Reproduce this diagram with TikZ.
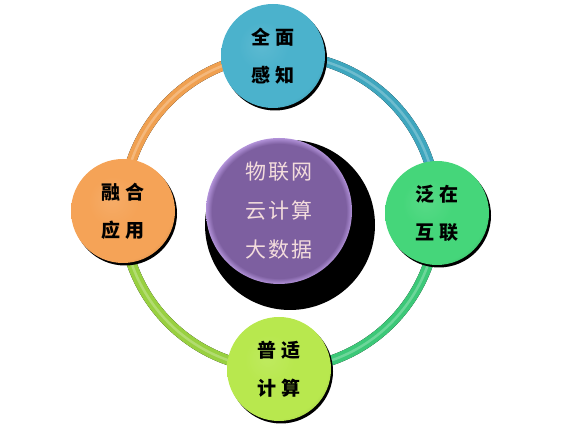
\documentclass[tikz,border=0pt]{standalone}
\usepackage{fontspec}
\usetikzlibrary{calc}
\newfontfamily\cjk{Noto Sans CJK SC}
\definecolor{cTeal}{RGB}{75,178,204}
\definecolor{cGreen}{RGB}{69,214,122}
\definecolor{cLime}{RGB}{184,232,78}
\definecolor{cOrange}{RGB}{245,163,87}
\definecolor{rTeal}{RGB}{62,166,190}
\definecolor{rGreen}{RGB}{60,200,120}
\definecolor{rLime}{RGB}{152,208,64}
\definecolor{rOrange}{RGB}{240,160,80}
\definecolor{cPurple}{RGB}{125,95,160}
\definecolor{cPurpleRim}{RGB}{190,158,230}
\definecolor{cText}{RGB}{243,220,220}
\colorlet{nodeA}{cTeal}
\colorlet{nodeB}{cTeal}
\colorlet{nodeC}{cTeal}
\pgfdeclareradialshading[nodeA,nodeB,nodeC]{nodeshade}{\pgfpoint{-6bp}{6bp}}{%
  color(0bp)=(nodeA);color(12bp)=(nodeB);color(27bp)=(nodeB);color(32bp)=(nodeC);color(50bp)=(nodeC)}
\pgfdeclareradialshading{purpleshade}{\pgfpoint{0bp}{0bp}}{%
  color(0bp)=(cPurple);color(23bp)=(cPurple);color(25.5bp)=(cPurpleRim);color(50bp)=(cPurpleRim)}
\tikzset{
  nodetext/.style={font=\cjk\bfseries\fontsize{19}{38}\selectfont, align=center, text=black},
  centertext/.style={font=\cjk\fontsize{21}{39}\selectfont, align=center, text=cText},
  tube/.style={line width=10pt},
  tubeshadow/.style={line width=10pt, draw=black},
  tubelight/.style={line width=2.5pt},
}
\newcommand{\ballnode}[5]{% name, x, y, color, text
  \fill[black] (#2+2,#3-2.5) circle[radius=52pt];
  \colorlet{nodeA}{#4!90!white}\colorlet{nodeB}{#4}\colorlet{nodeC}{#4!82!black}
  \shade[shading=nodeshade] (#2,#3) circle[radius=52pt];
  \node[nodetext] (#1) at (#2,#3) {#5};
}
\begin{document}
\begin{tikzpicture}[x=1pt,y=1pt]
\useasboundingbox (0,0) rectangle (563,433);
\coordinate (rc) at (280,221);
% ring shadow
\begin{scope}[shift={(1,-2.5)}]
  \draw[tubeshadow] (rc) circle[radius=157pt];
\end{scope}
% ring arcs
\draw[tube, draw=rOrange] ($(rc)+(90:157pt)$) arc[start angle=90, end angle=180, radius=157pt];
\draw[tube, draw=rTeal] ($(rc)+(0:157pt)$) arc[start angle=0, end angle=90, radius=157pt];
\draw[tube, draw=rGreen] ($(rc)+(270:157pt)$) arc[start angle=270, end angle=360, radius=157pt];
\draw[tube, draw=rLime] ($(rc)+(180:157pt)$) arc[start angle=180, end angle=270, radius=157pt];
% highlights
\draw[tubelight, draw=rOrange!75!white] ($(rc)+(90:157pt)$) arc[start angle=90, end angle=180, radius=157pt];
\draw[tubelight, draw=rTeal!75!white] ($(rc)+(0:157pt)$) arc[start angle=0, end angle=90, radius=157pt];
\draw[tubelight, draw=rGreen!75!white] ($(rc)+(270:157pt)$) arc[start angle=270, end angle=360, radius=157pt];
\draw[tubelight, draw=rLime!75!white] ($(rc)+(180:157pt)$) arc[start angle=180, end angle=270, radius=157pt];
% center
\fill[black] (290,208) circle[radius=85pt];
\shade[shading=purpleshade] (279,222) circle[radius=73pt];
\node[centertext] (core) at (279,222) {物\hspace{2pt}联\hspace{2pt}网\\云\hspace{2pt}计\hspace{2pt}算\\大\hspace{2pt}数\hspace{2pt}据};
% satellite nodes
\ballnode{top}{273}{377}{cTeal}{全\hspace{5pt}面\\感\hspace{5pt}知}
\ballnode{right}{437}{220}{cGreen}{泛\hspace{5pt}在\\互\hspace{5pt}联}
\ballnode{bottom}{279}{64}{cLime}{普\hspace{5pt}适\\计\hspace{5pt}算}
\ballnode{left}{123}{222}{cOrange}{融\hspace{5pt}合\\应\hspace{5pt}用}
\end{tikzpicture}
\end{document}
